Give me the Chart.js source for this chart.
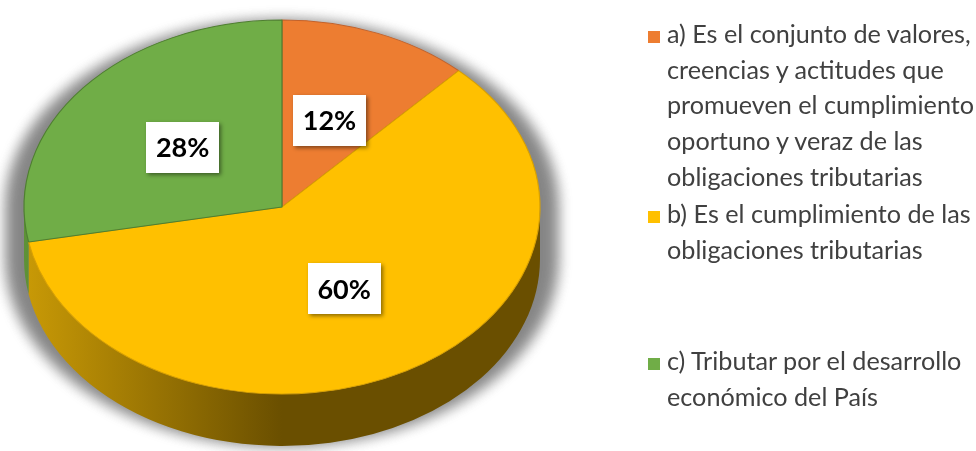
<!DOCTYPE html>
<html>
<head>
<meta charset="utf-8">
<script src="https://cdn.jsdelivr.net/npm/chart.js@4.4.1/dist/chart.umd.min.js"></script>
<style>
  html, body { margin: 0; padding: 0; background: #fff; }
  #wrap { position: relative; width: 976px; height: 451px; overflow: hidden; }
  #pie { position: absolute; left: 0; top: 0; }
  .leg { position: absolute; left: 667px; font-family: Lato, "Open Sans", sans-serif; font-size: 25.2px;
         line-height: 35.7px; color: #404040; white-space: nowrap; }
  .leg i { position: absolute; left: -19px; top: 15px; width: 12px; height: 12px; }
</style>
</head>
<body>
<div id="wrap">
  <canvas id="pie" width="976" height="451"></canvas>
  <div id="legend"></div>
</div>
<script>
// answers and their share (%)
const answers = [
    ['a) Es el conjunto de valores,', 'creencias y actitudes que', 'promueven el cumplimiento', 'oportuno y veraz de las', 'obligaciones tributarias'],
    ['b) Es el cumplimiento de las', 'obligaciones tributarias'],
    ['c) Tributar por el desarrollo', 'económico del País'],
];
const shares = [12, 60, 28];
const sliceColors = ['#ED7D31', '#FFC000', '#70AD47'];
const edgeColors = ['#c4622a', '#d9a100', '#4f7f31'];
// side wall shading: [light, dark]
const wallColors = [['#b8611f', '#6b3a12'], ['#c99a06', '#6a4f00'], ['#5e9237', '#35561c']];
const legendTops = [16, 196, 343];

// projected top face of the pie
const CX = 282, CY = 207, RX = 258, RY = 187, DEPTH = 52;

const legendBox = document.getElementById('legend');
answers.forEach((lines, i) => {
    const div = document.createElement('div');
    div.className = 'leg';
    div.style.top = legendTops[i] + 'px';
    div.innerHTML = '<i style="background:' + sliceColors[i] + '"></i>' + lines.join('<br>');
    legendBox.appendChild(div);
});

const toScreen = (arc, px, py) => {
    const k = arc.outerRadius;
    return [CX + (px - arc.x) * RX / k, CY + (py - arc.y) * RY / k];
};

// outline of the whole disc (top half of the lid + bottom half of the base)
const discPath = (ctx, x0, y0, r, d) => {
    ctx.beginPath();
    ctx.arc(x0, y0, r, Math.PI, 2 * Math.PI);
    ctx.lineTo(x0 + r, y0 + d);
    ctx.arc(x0, y0 + d, r, 0, Math.PI);
    ctx.closePath();
};

// tilt the flat pie into an ellipse and give it a side wall
const tiltPlugin = {
    id: 'tilt',
    beforeDatasetsDraw(chart) {
        const ctx = chart.ctx;
        const arcs = chart.getDatasetMeta(0).data;
        const x0 = arcs[0].x, y0 = arcs[0].y, r = arcs[0].outerRadius;
        const d = DEPTH * r / RY;
        ctx.save();
        ctx.translate(CX, CY);
        ctx.scale(RX / r, RY / r);
        ctx.translate(-x0, -y0);

        // soft shadow spreading out under the disc (drawn twice for density)
        ctx.save();
        ctx.translate(x0, y0 + d);
        ctx.scale(1.07, 1.0);
        ctx.translate(-x0, -(y0 + d));
        ctx.filter = 'blur(7px)';
        ctx.fillStyle = 'rgba(0,0,0,0.28)';
        discPath(ctx, x0, y0, r, d);
        ctx.fill();
        ctx.fill();
        ctx.restore();

        // front walls
        arcs.forEach((arc, i) => {
            const a = Math.max(arc.startAngle, 0);
            const b = Math.min(arc.endAngle, Math.PI);
            if (b <= a) return;
            const g = ctx.createLinearGradient(x0 - r, 0, x0 + r, 0);
            g.addColorStop(0, wallColors[i][0]);
            g.addColorStop(0.5, wallColors[i][1]);
            g.addColorStop(1, wallColors[i][1]);
            ctx.beginPath();
            ctx.arc(x0, y0, r, a, b);
            ctx.lineTo(x0 + r * Math.cos(b), y0 + d + r * Math.sin(b));
            ctx.arc(x0, y0 + d, r, b, a, true);
            ctx.closePath();
            ctx.fillStyle = g;
            ctx.fill();
        });
    },
    afterDatasetsDraw(chart) {
        chart.ctx.restore();
    },
    afterDraw(chart) {
        const ctx = chart.ctx;
        const arcs = chart.getDatasetMeta(0).data;
        ctx.save();
        ctx.font = 'bold 27px Lato, sans-serif';
        ctx.textAlign = 'center';
        ctx.textBaseline = 'middle';
        arcs.forEach((arc, i) => {
            const p = arc.tooltipPosition();
            const [sx, sy] = toScreen(arc, p.x, p.y);
            const w = 73, h = 51;
            ctx.save();
            ctx.shadowColor = 'rgba(0,0,0,0.45)';
            ctx.shadowBlur = 4;
            ctx.shadowOffsetX = 2;
            ctx.shadowOffsetY = 2;
            ctx.fillStyle = '#fff';
            ctx.fillRect(Math.round(sx - w / 2), Math.round(sy - h / 2), w, h);
            ctx.restore();
            ctx.fillStyle = '#000';
            ctx.fillText(shares[i] + '%', sx, sy + 1);
        });
        ctx.restore();
    }
};

new Chart(document.getElementById('pie'), {
    type: 'pie',
    data: {
        labels: answers.map(l => l.join(' ')),
        datasets: [{
            data: shares,
            backgroundColor: sliceColors,
            borderColor: edgeColors,
            borderWidth: 1,
            clip: false
        }]
    },
    options: {
        responsive: false,
        animation: false,
        layout: { padding: { left: 20, right: 420, top: 10, bottom: 10 } },
        plugins: { legend: { display: false }, tooltip: { enabled: false } },
        events: []
    },
    plugins: [tiltPlugin]
});
</script>
</body>
</html>
